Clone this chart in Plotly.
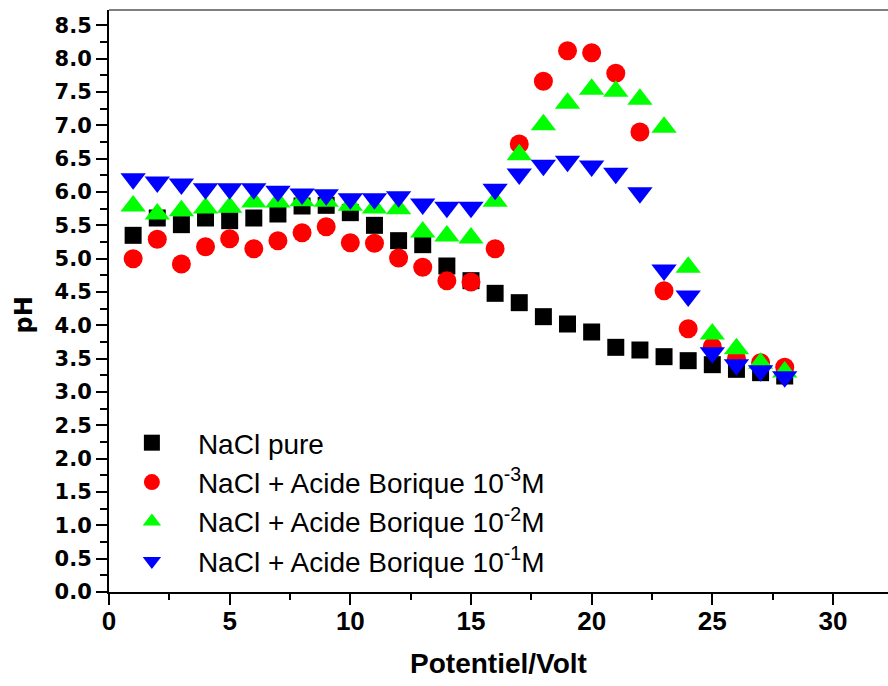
import plotly.graph_objects as go

# Applied potential (V)
potential = list(range(1, 29))

# pH measured at each potential
ph_nacl_pure = [5.35, 5.61, 5.51, 5.61, 5.57, 5.61, 5.67, 5.79, 5.80, 5.69,
                5.50, 5.27, 5.21, 4.89, 4.67, 4.48, 4.34, 4.13, 4.02, 3.90,
                3.67, 3.63, 3.53, 3.47, 3.41, 3.34, 3.29, 3.24]
ph_borique_1e3 = [5.00, 5.29, 4.92, 5.18, 5.30, 5.15, 5.27, 5.39, 5.48, 5.24,
                  5.23, 5.01, 4.87, 4.67, 4.65, 5.15, 6.72, 7.66, 8.12, 8.09,
                  7.78, 6.90, 4.52, 3.95, 3.68, 3.50, 3.44, 3.37]
ph_borique_1e2 = [5.79, 5.67, 5.72, 5.76, 5.77, 5.85, 5.85, 5.87, 5.86, 5.80,
                  5.76, 5.75, 5.40, 5.34, 5.31, 5.86, 6.56, 7.01, 7.33, 7.54,
                  7.51, 7.39, 6.97, 4.87, 3.87, 3.65, 3.43, 3.30]
ph_borique_1e1 = [6.20, 6.15, 6.12, 6.05, 6.05, 6.05, 6.01, 5.97, 5.96, 5.90,
                  5.90, 5.93, 5.82, 5.77, 5.77, 6.04, 6.27, 6.40, 6.46, 6.39,
                  6.28, 5.99, 4.83, 4.44, 3.59, 3.41, 3.32, 3.23]

series_names = [
    "NaCl pure",
    "NaCl + Acide Borique 10<sup>-3</sup>M",
    "NaCl + Acide Borique 10<sup>-2</sup>M",
    "NaCl + Acide Borique 10<sup>-1</sup>M",
]

x_ticks = [0, 5, 10, 15, 20, 25, 30]
y_ticks = [i * 0.5 for i in range(18)]
y_tick_text = [f"{v:.1f}" for v in y_ticks]

styles = [
    dict(symbol="square", color="#000000", size=17),
    dict(symbol="circle", color="#ff0000", size=19),
    dict(symbol="triangle-up", color="#00ff00", size=22),
    dict(symbol="triangle-down", color="#0000ff", size=22),
]

fig = go.Figure()
for i, (name, ys, st) in enumerate(zip(
        series_names,
        [ph_nacl_pure, ph_borique_1e3, ph_borique_1e2, ph_borique_1e1],
        styles)):
    fig.add_trace(go.Scatter(
        x=potential, y=ys, mode="markers", name=name,
        legendgroup=f"g{i}",
        marker=dict(symbol=st["symbol"], color=st["color"], size=st["size"],
                    line=dict(width=0)),
    ))

fig.update_layout(
    width=888, height=686,
    margin=dict(l=109, r=0, t=10, b=94),
    paper_bgcolor="white", plot_bgcolor="white",
    showlegend=True,
    legend=dict(
        x=-0.004, y=0.299, xanchor="left", yanchor="top",
        font=dict(family="Liberation Sans, Arial, sans-serif", size=28, color="black"),
        bgcolor="rgba(0,0,0,0)", borderwidth=0,
        itemsizing="trace", itemwidth=82, traceorder="grouped", tracegroupgap=0,
    ),
    xaxis=dict(
        range=[0, 32.28], showgrid=False, zeroline=False,
        showline=True, linecolor="black", linewidth=2,
        tickmode="array", tickvals=x_ticks,
        ticks="outside", ticklen=11, tickwidth=2, tickcolor="black",
        ticklabelstandoff=-6,
        minor=dict(dtick=2.5, tick0=0, ticks="outside", ticklen=6,
                   tickwidth=2, tickcolor="black", showgrid=False),
        tickfont=dict(family="Liberation Sans Narrow, Liberation Sans, Arial", size=26,
                      color="black", weight="bold"),
        title=dict(text="Potentiel/Volt", standoff=18,
                   font=dict(family="Liberation Sans Narrow, Liberation Sans, Arial", size=28,
                             color="black", weight="bold")),
    ),
    yaxis=dict(
        range=[0, 8.73], showgrid=False, zeroline=False,
        showline=True, linecolor="black", linewidth=2,
        tickmode="array", tickvals=y_ticks, ticktext=y_tick_text,
        ticks="outside", ticklen=11, tickwidth=2, tickcolor="black",
        minor=dict(dtick=0.25, tick0=0, ticks="outside", ticklen=7,
                   tickwidth=2, tickcolor="black", showgrid=False),
        tickfont=dict(family="DejaVu Sans, sans-serif", size=21,
                      color="black", weight="bold"),
    ),
    annotations=[dict(
        text="pH", xref="paper", yref="y", x=-0.109, y=4.15,
        xanchor="center", yanchor="middle", textangle=-90, showarrow=False,
        font=dict(family="DejaVu Sans, sans-serif", size=24, color="black", weight="bold"),
    )],
    shapes=[dict(type="line", xref="paper", yref="paper", x0=0, x1=1, y0=1, y1=1,
                 line=dict(color="black", width=1))],
)

fig.write_html("out.html")
